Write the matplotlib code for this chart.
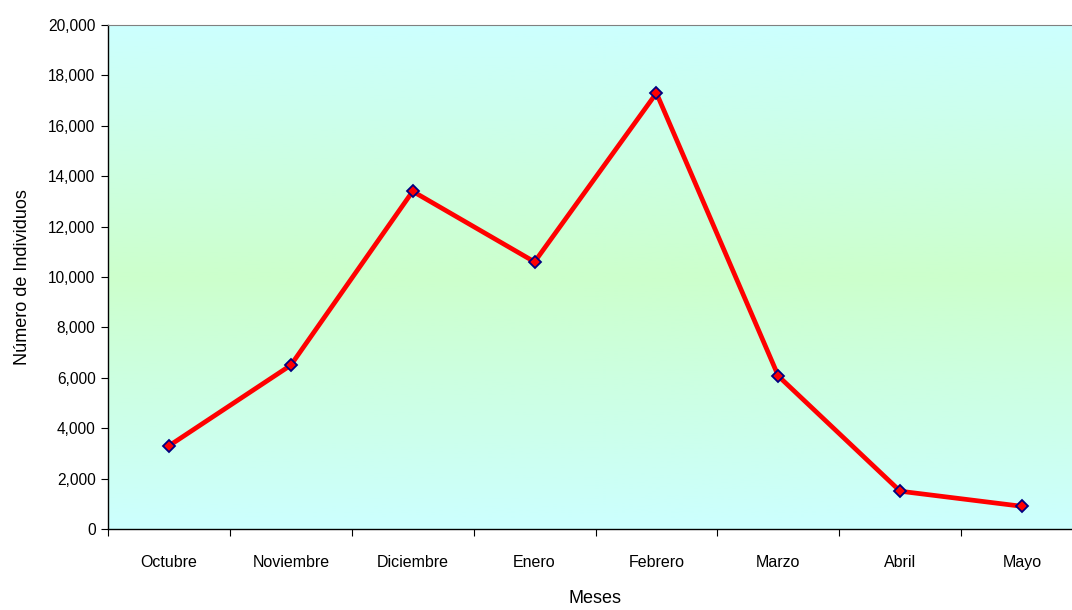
import matplotlib.pyplot as plt
import numpy as np
from matplotlib.colors import LinearSegmentedColormap
from matplotlib.ticker import FuncFormatter

months = ["Octubre", "Noviembre", "Diciembre", "Enero", "Febrero",
          "Marzo", "Abril", "Mayo"]
individuals = [3300, 6500, 13400, 10600, 17300, 6070, 1500, 900]
y_ticks = [0, 2000, 4000, 6000, 8000, 10000, 12000, 14000, 16000, 18000, 20000]


def main():
    plt.rcParams["font.family"] = ["Liberation Sans", "DejaVu Sans"]

    W, H = 1072, 610
    fig = plt.figure(figsize=(W / 100, H / 100), dpi=100)
    # right edge of the plot area runs past the image, as in the original
    left, right, top, bottom = 108, 1083, 25, 529
    ax = fig.add_axes([left / W, 1 - bottom / H, (right - left) / W,
                       (bottom - top) / H])

    # cyan -> green -> cyan vertical gradient background
    cmap = LinearSegmentedColormap.from_list(
        "bg", ["#ccffff", "#ccffcc", "#ccffff"])
    grad = np.linspace(0, 1, 256).reshape(-1, 1)
    ax.imshow(grad, cmap=cmap, aspect="auto", extent=(0, 1, 0, 1),
              transform=ax.transAxes, zorder=0)

    x = np.arange(len(months))
    ax.plot(x, individuals, color="#ff0000", linewidth=3.4, zorder=3,
            solid_joinstyle="miter")
    ax.plot(x, individuals, linestyle="none", marker="D", markersize=6,
            markerfacecolor="#ff0000", markeredgecolor="#000080",
            markeredgewidth=1.3, zorder=4)

    ax.set_xlim(-0.5, len(months) - 0.5)
    ax.set_ylim(0, 20000)
    ax.set_yticks(y_ticks)
    ax.yaxis.set_major_formatter(FuncFormatter(lambda v, p: f"{int(v):,}"))
    ax.set_xticks(np.arange(len(months) + 1) - 0.5)
    ax.set_xticklabels([])
    ax.set_xticks(x, minor=True)
    ax.set_xticklabels(months, minor=True)
    ax.tick_params(axis="x", which="minor", length=0, pad=19, labelsize=11.5)
    ax.tick_params(axis="x", which="major", length=5, direction="out",
                   color="black")
    ax.tick_params(axis="y", length=5, direction="out", labelsize=11.2,
                   pad=4)

    for side in ("left", "bottom"):
        ax.spines[side].set_color("black")
        ax.spines[side].set_linewidth(1.0)
    ax.spines["top"].set_color("#808080")
    ax.spines["right"].set_color("#808080")

    ax.set_xlabel("Meses", fontsize=13, labelpad=14)
    ax.set_ylabel("Número de Individuos", fontsize=13, labelpad=12)

    fig.savefig("out.png", dpi=100)
    plt.close(fig)


if __name__ == "__main__":
    main()
